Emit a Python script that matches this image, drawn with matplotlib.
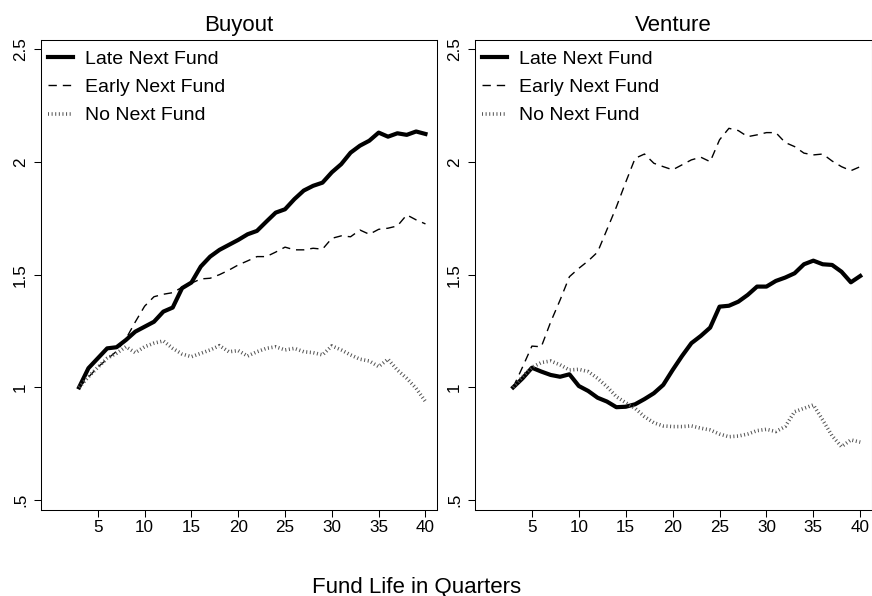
import matplotlib
matplotlib.use('Agg')
import matplotlib.pyplot as plt

plt.rcParams['font.family'] = ['Liberation Sans', 'DejaVu Sans']

# ==============================
# Data
# ==============================
quarters = list(range(3, 41))

buyout_late = [1.00, 1.085, 1.129, 1.173, 1.178, 1.21, 1.247, 1.269, 1.291, 1.336,
               1.354, 1.44, 1.465, 1.536, 1.58, 1.61, 1.632, 1.654, 1.679, 1.694,
               1.735, 1.775, 1.79, 1.835, 1.873, 1.894, 1.908, 1.954, 1.99, 2.041,
               2.072, 2.094, 2.13, 2.112, 2.127, 2.12, 2.135, 2.124]
buyout_early = [1.00, 1.045, 1.09, 1.125, 1.16, 1.215, 1.29, 1.36, 1.402, 1.413,
                1.42, 1.444, 1.462, 1.481, 1.484, 1.50, 1.52, 1.543, 1.561, 1.58,
                1.58, 1.60, 1.622, 1.61, 1.61, 1.617, 1.613, 1.661, 1.672, 1.668,
                1.698, 1.679, 1.701, 1.706, 1.716, 1.765, 1.743, 1.725]
buyout_none = [1.00, 1.047, 1.089, 1.129, 1.151, 1.18, 1.154, 1.18, 1.196, 1.206,
               1.173, 1.148, 1.136, 1.151, 1.166, 1.185, 1.158, 1.163, 1.139, 1.158,
               1.173, 1.18, 1.166, 1.173, 1.158, 1.154, 1.144, 1.184, 1.166, 1.144,
               1.125, 1.117, 1.092, 1.125, 1.077, 1.04, 0.996, 0.937]

venture_late = [1.00, 1.04, 1.087, 1.07, 1.055, 1.047, 1.058, 1.006, 0.984, 0.954,
                0.937, 0.912, 0.914, 0.925, 0.948, 0.974, 1.011, 1.077, 1.139, 1.196,
                1.228, 1.265, 1.358, 1.362, 1.38, 1.41, 1.447, 1.447, 1.472, 1.487,
                1.506, 1.546, 1.562, 1.546, 1.543, 1.513, 1.466, 1.494]
venture_early = [1.00, 1.09, 1.183, 1.18, 1.29, 1.387, 1.491, 1.528, 1.561, 1.60,
                 1.70, 1.80, 1.91, 2.016, 2.035, 1.994, 1.979, 1.965, 1.987, 2.009,
                 2.021, 2.001, 2.098, 2.149, 2.139, 2.112, 2.12, 2.13, 2.13, 2.086,
                 2.068, 2.039, 2.031, 2.035, 2.004, 1.979, 1.961, 1.979]
venture_none = [1.00, 1.047, 1.089, 1.11, 1.117, 1.10, 1.077, 1.08, 1.07, 1.04,
                1.003, 0.959, 0.932, 0.907, 0.87, 0.843, 0.829, 0.826, 0.826, 0.829,
                0.819, 0.811, 0.793, 0.781, 0.784, 0.793, 0.808, 0.814, 0.804, 0.826,
                0.892, 0.907, 0.922, 0.855, 0.785, 0.737, 0.767, 0.757]

series_labels = ['Late Next Fund', 'Early Next Fund', 'No Next Fund']
panel_titles = ['Buyout', 'Venture']
y_ticks = [0.5, 1, 1.5, 2, 2.5]
y_ticklabels = ['.5', '1', '1.5', '2', '2.5']
x_ticks = [5, 10, 15, 20, 25, 30, 35, 40]

# ==============================
# Figure
# ==============================
W, H = 872, 596
fig = plt.figure(figsize=(W / 100, H / 100), dpi=100)

def px_axes(x0, x1, y0, y1):
    return fig.add_axes([x0 / W, 1 - y1 / H, (x1 - x0) / W, (y1 - y0) / H])

ax_left = px_axes(40.7, 436.7, 39.5, 510)
ax_right = px_axes(474.7, 871.5, 39.5, 510)

panels = [
    (ax_left, buyout_late, buyout_early, buyout_none),
    (ax_right, venture_late, venture_early, venture_none),
]

for (ax, late, early, none), title in zip(panels, panel_titles):
    ax.plot(quarters, late, color='black', lw=3.0, solid_joinstyle='round',
            label=series_labels[0])
    ax.plot(quarters, early, color='black', lw=1.0, linestyle=(0, (6, 4.3)),
            label=series_labels[1])
    ax.plot(quarters, none, color='#555555', lw=2.6, linestyle=(0, (0.28, 0.72)),
            dash_capstyle='butt', label=series_labels[2])

    ax.set_xlim(-1.1, 41.2)
    ax.set_ylim(0.456, 2.543)
    ax.set_xticks(x_ticks)
    ax.set_yticks(y_ticks)
    ax.set_yticklabels(y_ticklabels, rotation=90, va='center')
    ax.tick_params(axis='both', labelsize=12.3, length=5, width=0.75, color='black')
    ax.tick_params(axis='x', pad=2.5)
    ax.tick_params(axis='y', pad=4)
    for sp in ax.spines.values():
        sp.set_linewidth(0.75)
        sp.set_color('black')

    ax.set_title(title, fontsize=16, pad=6.3)
    ax.legend(loc='upper left', bbox_to_anchor=(0, 0.994), frameon=False, fontsize=14,
              handlelength=1.25, handletextpad=0.65, labelspacing=0.55,
              borderaxespad=0.15, borderpad=0.25)

fig.text(417 / W, 1 - 592.7 / H, 'Fund Life in Quarters', fontsize=16,
         ha='center', va='baseline')

fig.savefig('out.png', dpi=100)
